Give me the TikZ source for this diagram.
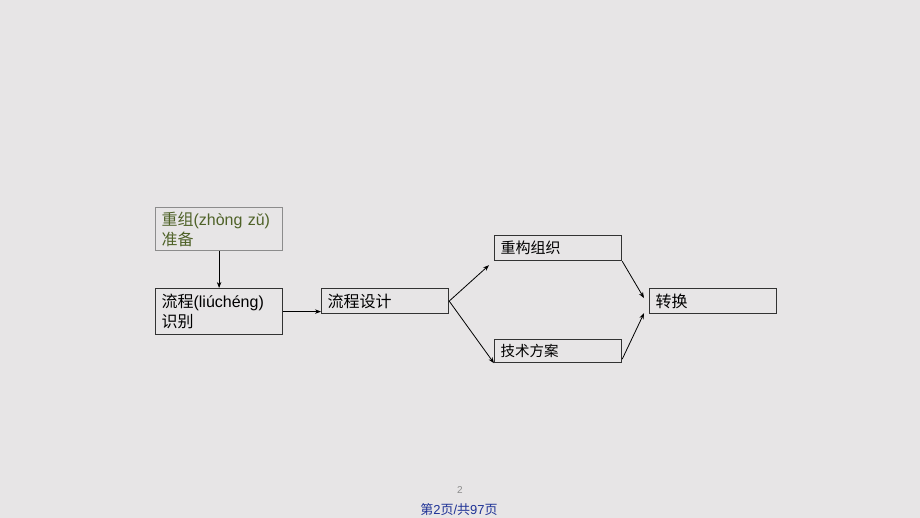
\documentclass[tikz,border=0pt]{standalone}
\usepackage{fontspec}
\setmainfont{Liberation Sans}
\newfontfamily\cjk{Noto Sans CJK SC}
\usetikzlibrary{arrows.meta,calc}
\definecolor{bg}{RGB}{231,229,230}
\definecolor{olive}{RGB}{79,98,40}
\definecolor{footblue}{RGB}{30,50,150}
\tikzset{
  box/.style={draw=black!80, line width=1.2pt, rectangle, anchor=north west,
    minimum width=127pt, inner xsep=6pt, inner ysep=2pt, align=left,
    text width=115pt, font=\fontsize{16}{20}\selectfont},
  conn/.style={line width=0.8pt, -{Stealth[length=6pt,width=4.5pt]}}
}
\begin{document}
\begin{tikzpicture}[x=1pt,y=-1pt]
\fill[bg] (0,0) rectangle (920,518);
\useasboundingbox (0,0) rectangle (920,518);
\node[box, draw=black!45, minimum height=43pt, text=olive] (zz) at (155,207)
  {{\cjk 重组}(zhòng zǔ)\\{\cjk 准备}};
\node[box, minimum height=46pt] (sb) at (155,288)
  {{\cjk 流程}(liúchéng)\\{\cjk 识别}};
\node[box, minimum height=25pt] (sj) at (321,288) {\cjk 流程设计};
\node[box, minimum height=25pt, font=\fontsize{15}{18}\selectfont] (cg) at (494,235) {\cjk 重构组织};
\node[box, minimum height=23pt, font=\fontsize{14.5}{18}\selectfont] (js) at (494,339) {\cjk 技术方案};
\node[box, minimum height=25pt] (zh) at (649,288) {\cjk 转换};
\draw[conn] (zz.south) -- (sb.north);
\draw[conn] (sb.east) -- (sj.west |- sb.east);
\draw[conn] (sj.east) -- ($(cg.south west)+(-5,4)$);
\draw[conn] (sj.east) -- (js.south west);
\draw[conn] (cg.south east) -- ($(zh.west)+(-5,-3)$);
\draw[conn] ($(js.south east)+(0,-4)$) -- ($(zh.south west)+(-5,-1)$);
\node[text=black!45, font=\fontsize{10}{12}\selectfont] (pg) at (460,490) {2};
\node[text=footblue, font=\fontsize{13}{14}\selectfont] (ft) at (459,510) {{\cjk 第}2{\cjk 页}/{\cjk 共}97{\cjk 页}};
\end{tikzpicture}
\end{document}
